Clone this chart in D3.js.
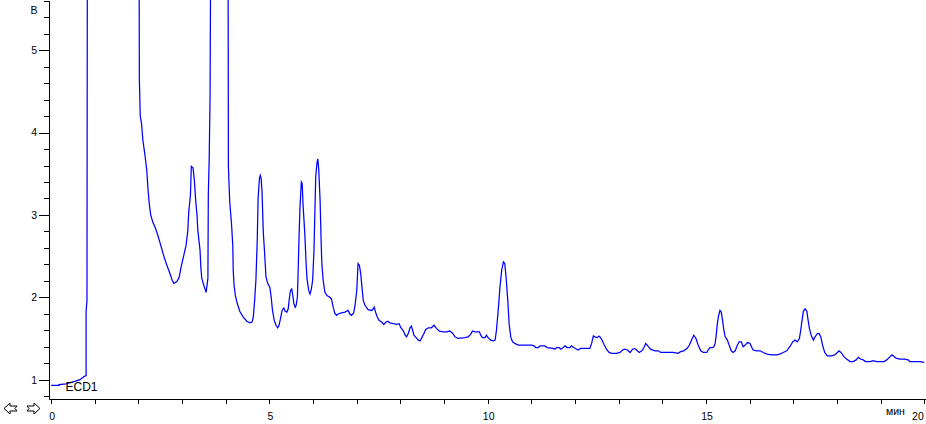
<!DOCTYPE html>
<html>
<head>
<meta charset="utf-8">
<script src="https://cdn.jsdelivr.net/npm/d3@7"></script>
<style>
  html, body { margin: 0; padding: 0; background: #fff; }
  svg { display: block; font-family: "Liberation Sans", Arial, sans-serif; }
</style>
</head>
<body>
<svg id="chart" width="926" height="424"></svg>
<script>
// ---- data (time in minutes, signal in volts) ----
const timeMin = [
  0, 0.18, 0.18, 0.34, 0.54, 0.66, 0.76, 0.80, 0.80, 0.82, 0.83,
  2.01, 2.02, 2.04, 2.07, 2.10, 2.15, 2.19, 2.22, 2.25, 2.28,
  2.33, 2.38, 2.44, 2.51, 2.58, 2.65, 2.72, 2.77, 2.81, 2.88,
  2.93, 2.97, 3.02, 3.09, 3.13, 3.15, 3.19, 3.21, 3.25, 3.28,
  3.31, 3.34, 3.36, 3.41, 3.43, 3.45, 3.50, 3.55, 3.59, 3.60,
  3.62, 3.64, 3.66,
  4.05, 4.06, 4.09, 4.13, 4.16, 4.17, 4.19, 4.22, 4.26, 4.32,
  4.40, 4.48, 4.55, 4.60, 4.63, 4.66, 4.69, 4.72, 4.74, 4.77,
  4.79, 4.81, 4.83, 4.86, 4.89, 4.92, 4.96, 5.01, 5.04, 5.07,
  5.11, 5.15, 5.19, 5.22, 5.26, 5.29, 5.33, 5.36, 5.40, 5.43,
  5.45, 5.48, 5.51, 5.53, 5.56, 5.59, 5.61, 5.64, 5.66, 5.68,
  5.70, 5.73, 5.75, 5.77, 5.81, 5.84, 5.86, 5.90, 5.93, 5.96,
  5.99, 6.02, 6.04, 6.06, 6.09, 6.11, 6.13, 6.16, 6.18, 6.20,
  6.23, 6.27, 6.32, 6.38, 6.42, 6.46, 6.50, 6.54, 6.58, 6.65,
  6.73, 6.80, 6.84, 6.88, 6.93, 6.96, 7.00, 7.03, 7.06, 7.09,
  7.12, 7.15, 7.19, 7.26, 7.34, 7.38, 7.40, 7.43, 7.47, 7.51,
  7.57, 7.62, 7.67, 7.71, 7.76, 7.84, 7.91, 7.97, 8.01, 8.06,
  8.11, 8.14, 8.18, 8.22, 8.25, 8.28, 8.31, 8.36, 8.41, 8.45,
  8.49, 8.54, 8.58, 8.64, 8.71, 8.77, 8.83, 8.89, 8.98, 9.06,
  9.13, 9.20, 9.25, 9.32, 9.48, 9.55, 9.61, 9.65, 9.71, 9.81,
  9.84, 9.88, 9.94, 9.97, 10.01, 10.07, 10.13, 10.17, 10.20, 10.24,
  10.28, 10.32, 10.36, 10.39, 10.42, 10.46, 10.49, 10.53, 10.57, 10.62,
  10.70, 10.78, 10.89, 11.01, 11.06, 11.10, 11.16, 11.20, 11.31, 11.36,
  11.50, 11.54, 11.58, 11.64, 11.67, 11.73, 11.77, 11.82, 11.88, 11.92,
  11.97, 12.04, 12.07, 12.13, 12.23, 12.34, 12.38, 12.42, 12.46, 12.51,
  12.55, 12.57, 12.62, 12.66, 12.72, 12.78, 12.84, 12.95, 13.03, 13.09,
  13.14, 13.20, 13.26, 13.32, 13.36, 13.41, 13.47, 13.53, 13.58, 13.62,
  13.68, 13.73, 13.83, 13.91, 13.96, 14.10, 14.25, 14.36, 14.42, 14.49,
  14.57, 14.62, 14.67, 14.72, 14.77, 14.82, 14.88, 14.94, 15.02, 15.05,
  15.09, 15.15, 15.18, 15.21, 15.23, 15.26, 15.29, 15.32, 15.35, 15.38,
  15.41, 15.44, 15.49, 15.53, 15.58, 15.62, 15.67, 15.72, 15.76, 15.81,
  15.85, 15.90, 15.95, 16.01, 16.05, 16.08, 16.16, 16.24, 16.31, 16.40,
  16.50, 16.62, 16.69, 16.77, 16.85, 16.92, 16.99, 17.04, 17.09, 17.14,
  17.17, 17.20, 17.23, 17.27, 17.31, 17.34, 17.37, 17.41, 17.46, 17.50,
  17.55, 17.59, 17.63, 17.67, 17.72, 17.78, 17.88, 17.95, 18.01, 18.05,
  18.11, 18.16, 18.22, 18.30, 18.37, 18.44, 18.49, 18.54, 18.60, 18.66,
  18.76, 18.83, 18.91, 18.99, 19.08, 19.14, 19.22, 19.26, 19.31, 19.35,
  19.44, 19.56, 19.63, 19.67, 19.75, 19.90, 20.00
];
const signalV = [
  0.93, 0.93, 0.94, 0.95, 0.98, 1.00, 1.04, 1.05, 1.83, 1.96, 7.0,
  7.0, 4.65, 4.20, 4.11, 3.91, 3.72, 3.54, 3.30, 3.12, 3.00,
  2.91, 2.85, 2.76, 2.63, 2.50, 2.39, 2.29, 2.21, 2.17, 2.19,
  2.24, 2.35, 2.47, 2.63, 2.81, 3.03, 3.24, 3.59, 3.57, 3.42,
  3.18, 3.00, 2.81, 2.57, 2.35, 2.23, 2.14, 2.06, 2.23, 3.26,
  3.69, 4.46, 7.0,
  7.0, 3.58, 3.16, 2.90, 2.63, 2.33, 2.14, 2.02, 1.93, 1.83,
  1.76, 1.71, 1.69, 1.70, 1.76, 1.96, 2.21, 2.69, 3.20, 3.44,
  3.48, 3.44, 3.28, 2.78, 2.53, 2.25, 2.17, 2.12, 2.00, 1.84,
  1.72, 1.66, 1.63, 1.66, 1.76, 1.84, 1.87, 1.83, 1.82, 1.86,
  1.96, 2.08, 2.10, 2.04, 1.92, 1.88, 1.90, 2.00, 2.37, 2.77,
  3.10, 3.40, 3.38, 3.12, 2.77, 2.41, 2.23, 2.08, 2.04, 2.10,
  2.21, 2.57, 3.02, 3.46, 3.64, 3.68, 3.54, 3.18, 2.75, 2.41,
  2.21, 2.06, 2.02, 2.00, 1.98, 1.88, 1.80, 1.78, 1.80, 1.81,
  1.82, 1.84, 1.80, 1.78, 1.81, 1.90, 2.08, 2.41, 2.39, 2.29,
  2.12, 1.96, 1.90, 1.85, 1.84, 1.86, 1.88, 1.82, 1.76, 1.72,
  1.70, 1.67, 1.70, 1.71, 1.69, 1.68, 1.67, 1.68, 1.63, 1.60,
  1.54, 1.52, 1.56, 1.63, 1.65, 1.60, 1.54, 1.51, 1.48, 1.47,
  1.51, 1.56, 1.61, 1.63, 1.63, 1.66, 1.62, 1.59, 1.58, 1.58,
  1.59, 1.56, 1.52, 1.50, 1.51, 1.52, 1.55, 1.59, 1.58, 1.58,
  1.54, 1.51, 1.51, 1.54, 1.51, 1.48, 1.47, 1.48, 1.60, 1.84,
  2.12, 2.33, 2.43, 2.41, 2.25, 1.96, 1.68, 1.51, 1.46, 1.44,
  1.42, 1.42, 1.42, 1.42, 1.41, 1.39, 1.39, 1.41, 1.41, 1.39,
  1.38, 1.37, 1.39, 1.39, 1.37, 1.39, 1.41, 1.39, 1.39, 1.41,
  1.39, 1.37, 1.36, 1.38, 1.38, 1.38, 1.44, 1.53, 1.52, 1.51,
  1.53, 1.52, 1.48, 1.43, 1.37, 1.33, 1.32, 1.32, 1.33, 1.36,
  1.37, 1.36, 1.33, 1.37, 1.38, 1.36, 1.33, 1.35, 1.39, 1.44,
  1.40, 1.37, 1.35, 1.35, 1.33, 1.33, 1.33, 1.32, 1.34, 1.35,
  1.38, 1.42, 1.48, 1.54, 1.50, 1.42, 1.35, 1.33, 1.33, 1.36,
  1.39, 1.39, 1.40, 1.44, 1.52, 1.68, 1.78, 1.84, 1.82, 1.72,
  1.60, 1.52, 1.48, 1.42, 1.35, 1.33, 1.35, 1.42, 1.46, 1.46,
  1.40, 1.42, 1.45, 1.44, 1.39, 1.36, 1.35, 1.35, 1.33, 1.31,
  1.30, 1.30, 1.31, 1.33, 1.35, 1.40, 1.46, 1.48, 1.46, 1.50,
  1.60, 1.72, 1.83, 1.86, 1.83, 1.72, 1.62, 1.54, 1.48, 1.52,
  1.56, 1.56, 1.52, 1.42, 1.33, 1.29, 1.29, 1.30, 1.33, 1.35,
  1.32, 1.28, 1.25, 1.22, 1.22, 1.24, 1.27, 1.25, 1.24, 1.22,
  1.22, 1.23, 1.22, 1.22, 1.22, 1.24, 1.28, 1.30, 1.28, 1.26,
  1.25, 1.25, 1.24, 1.22, 1.22, 1.22, 1.21
];
const xMajorTicks = [0, 5, 10, 15, 20];
const xMinorStep = 1;
const yMajorTicks = [1, 2, 3, 4, 5];
const yMinorStep = 0.2;
const yUnitLabel = "В";
const xUnitLabel = "мин";
const traceLabel = "ECD1";

// ---- scales ----
const svg = d3.select("#chart");
const x = d3.scaleLinear().domain([-0.05, 20.04]).range([49, 926]);
const y = d3.scaleLinear().domain([0.765, 5.61]).range([399, 0]);

const n = Math.min(timeMin.length, signalV.length);
const points = d3.range(n).map(i => ({ t: timeMin[i], v: signalV[i] }));

// clip region = plot area
svg.append("defs").append("clipPath").attr("id", "plotClip")
  .append("rect")
  .attr("x", x.range()[0]).attr("y", 0)
  .attr("width", x.range()[1] - x.range()[0])
  .attr("height", y.range()[0]);

// ---- trace ----
const line = d3.line().x(d => x(d.t)).y(d => y(d.v)).curve(d3.curveLinear);
svg.append("path")
  .datum(points)
  .attr("clip-path", "url(#plotClip)")
  .attr("fill", "none")
  .attr("stroke", "#0000ff")
  .attr("stroke-width", 1.25)
  .attr("stroke-linejoin", "miter")
  .attr("d", line);

// ---- y axis ----
const yMinor = d3.range(0.8, 5.61, yMinorStep).map(v => +v.toFixed(1));
const yAxisMinor = d3.axisLeft(y).tickValues(yMinor).tickSize(5).tickSizeOuter(0).tickFormat("");
const gy = svg.append("g").attr("transform", "translate(49,0)").call(yAxisMinor);
gy.selectAll("path,line").attr("stroke", "#000").attr("shape-rendering", "crispEdges");

const yAxisMajor = d3.axisLeft(y).tickValues(yMajorTicks).tickSize(10).tickPadding(2).tickFormat(d3.format("d"));
const gy2 = svg.append("g").attr("transform", "translate(49,0)").call(yAxisMajor);
gy2.select(".domain").remove();
gy2.selectAll("line").attr("stroke", "#000").attr("shape-rendering", "crispEdges");
gy2.selectAll("text").attr("fill", "#000").attr("font-size", "10.5px")
  .attr("font-family", "'Liberation Sans', Arial, sans-serif");

svg.append("text")
  .attr("x", 37.5).attr("y", 13.5)
  .attr("text-anchor", "end")
  .attr("font-size", "10.5px")
  .attr("fill", "#000")
  .text(yUnitLabel);

// ---- x axis ----
const xMinor = d3.range(0, 20.001, xMinorStep);
const xAxis = d3.axisBottom(x).tickValues(xMinor).tickSize(5).tickSizeOuter(0).tickFormat("");
const gx = svg.append("g").attr("transform", "translate(0,399)").call(xAxis);
gx.selectAll("path,line").attr("stroke", "#000").attr("shape-rendering", "crispEdges");

svg.append("g").selectAll("text")
  .data(xMajorTicks)
  .join("text")
  .attr("x", d => d === 20 ? x(d) - 0.5 : x(d) + 1)
  .attr("y", 420)
  .attr("text-anchor", d => d === 20 ? "end" : "middle")
  .attr("font-size", "10.5px")
  .attr("fill", "#000")
  .text(d => d);

svg.append("text")
  .attr("x", 886).attr("y", 414.5)
  .attr("font-size", "10.5px")
  .attr("fill", "#000")
  .text(xUnitLabel);

// ---- trace label ----
svg.append("text")
  .attr("x", 65.5).attr("y", 390.5)
  .attr("font-size", "12px")
  .attr("fill", "#000")
  .text(traceLabel);

// ---- scroll arrows ----
const arrowL = "M4,408.5 L10,403 L10,406 L17,406 L15,408.5 L17,411 L10,411 L10,414 Z";
const arrowR = "M40,408.5 L34,403 L34,406 L27,406 L29,408.5 L27,411 L34,411 L34,414 Z";
svg.append("g").selectAll("path")
  .data([arrowL, arrowR])
  .join("path")
  .attr("d", d => d)
  .attr("fill", "#fff")
  .attr("stroke", "#000")
  .attr("stroke-width", 1);
</script>
</body>
</html>
